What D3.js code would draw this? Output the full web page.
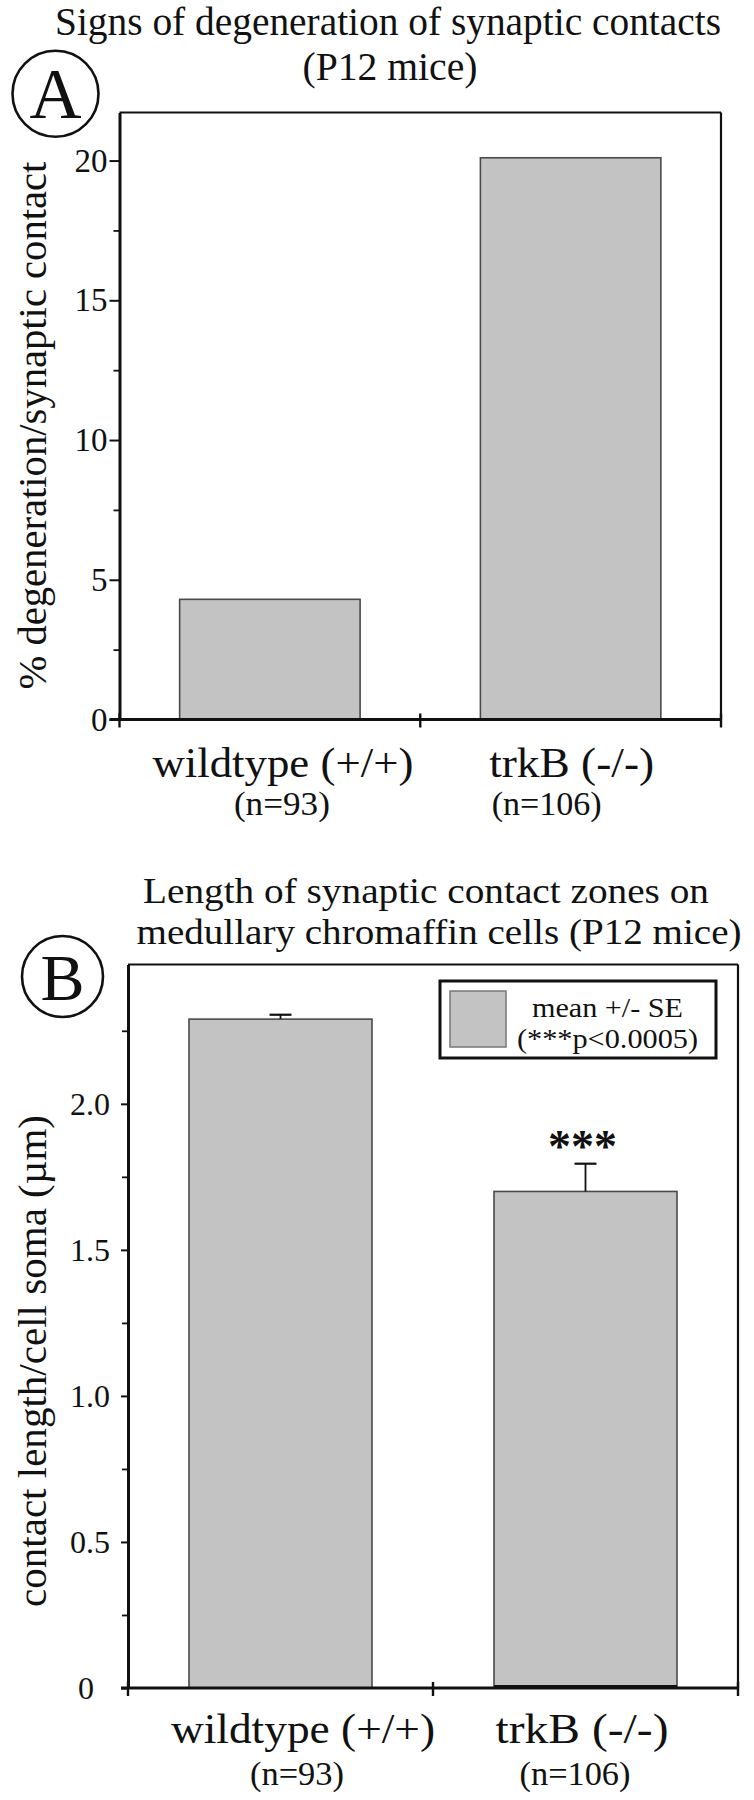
<!DOCTYPE html>
<html>
<head>
<meta charset="utf-8">
<script src="https://cdn.jsdelivr.net/npm/d3@7"></script>
<style>
  html, body { margin: 0; padding: 0; background: #fff; }
  text { font-family: "Liberation Serif", serif; }
</style>
</head>
<body>
<svg id="chart" width="754" height="1800"></svg>
<script>
// ---------------- data ----------------
const categories = ["wildtype (+/+)", "trkB (-/-)"];
const nLabelsA = ["(n=93)", "(n=106)"];
const nLabelsB = ["(n=93)", "(n=106)"];
const valuesA = [4.3, 20.1];                 // % degeneration / synaptic contact
const valuesB = [2.29, 1.70];                // contact length / cell soma (µm)
const errorsB = [0.015, 0.095];              // SE
const signifB = ["", "***"];
const majorTicksA = [0, 5, 10, 15, 20];
const minorTicksA = [2.5, 7.5, 12.5, 17.5];
const majorTicksB = [0, 0.5, 1.0, 1.5, 2.0];
const minorTicksB = [0.25, 0.75, 1.25, 1.75, 2.25];
const titleA = ["Signs of degeneration of synaptic contacts", "(P12 mice)"];
const titleB = ["Length of synaptic contact zones on", "medullary chromaffin cells (P12 mice)"];
const yTitleA = "% degeneration/synaptic contact";
const yTitleB = "contact length/cell soma (\u00b5m)";
const legendLines = ["mean +/- SE", "(***p<0.0005)"];

// ---------------- drawing ----------------
const FONT = "Liberation Serif";
const svg = d3.select("#chart");
const BAR_FILL = "#c3c3c3";
const BAR_STROKE = "#4a4a4a";

function txt(g, s, x, y, size, len, opts = {}) {
  const t = g.append("text")
    .attr("x", x).attr("y", y)
    .attr("text-anchor", opts.anchor || "middle")
    .attr("font-family", FONT)
    .attr("font-size", size)
    .attr("fill", "#111")
    .text(s);
  if (len) t.attr("textLength", len).attr("lengthAdjust", "spacingAndGlyphs");
  if (opts.weight) t.attr("font-weight", opts.weight);
  if (opts.transform) t.attr("transform", opts.transform);
  return t;
}

function panel(cfg) {
  const g = svg.append("g");
  const x = d3.scaleBand().domain(categories).range([cfg.left, cfg.right])
    .paddingInner(0.4).paddingOuter(0.2);
  const y = d3.scaleLinear().domain([0, cfg.yMax]).range([cfg.bottom, cfg.top]);

  // titles
  cfg.title.forEach((s, i) => txt(g, s, cfg.titlePos[i][0], cfg.titlePos[i][1], cfg.titleSize, cfg.titlePos[i][2]));

  // circled letter
  g.append("circle").attr("cx", cfg.circle[0]).attr("cy", cfg.circle[1]).attr("r", cfg.circle[2])
    .attr("fill", "none").attr("stroke", "#111").attr("stroke-width", 2.6);
  txt(g, cfg.letter, cfg.circle[0], cfg.letterBase, cfg.letterSize);

  // bars
  g.selectAll("rect.bar").data(cfg.values).join("rect").attr("class", "bar")
    .attr("x", (d, i) => x(categories[i]))
    .attr("y", d => y(d))
    .attr("width", x.bandwidth())
    .attr("height", d => y(0) - y(d))
    .attr("fill", BAR_FILL).attr("stroke", BAR_STROKE).attr("stroke-width", 1.6);

  // error bars
  if (cfg.errors) {
    cfg.errors.forEach((e, i) => {
      const cx = x(categories[i]) + x.bandwidth() / 2;
      const v = cfg.values[i];
      g.append("line").attr("x1", cx).attr("x2", cx).attr("y1", y(v)).attr("y2", y(v + e))
        .attr("stroke", "#111").attr("stroke-width", 1.8);
      g.append("line").attr("x1", cx - 11).attr("x2", cx + 11).attr("y1", y(v + e)).attr("y2", y(v + e))
        .attr("stroke", "#111").attr("stroke-width", 2.2);
      if (cfg.signif && cfg.signif[i]) {
        txt(g, cfg.signif[i], cx - 3, y(v + e) - 2, 46, 69, { weight: "bold" });
      }
    });
    // darker base under the trkB bar
    g.append("line")
      .attr("x1", x(categories[1])).attr("x2", x(categories[1]) + x.bandwidth())
      .attr("y1", y(0) - 1.5).attr("y2", y(0) - 1.5)
      .attr("stroke", "#111").attr("stroke-width", 3);
  }

  // frame (top, right)
  g.append("line").attr("x1", cfg.left).attr("x2", cfg.right).attr("y1", cfg.top).attr("y2", cfg.top)
    .attr("stroke", "#111").attr("stroke-width", 2.2);
  g.append("line").attr("x1", cfg.right).attr("x2", cfg.right).attr("y1", cfg.top).attr("y2", cfg.bottom)
    .attr("stroke", "#111").attr("stroke-width", 2.2);

  // y axis: minor ticks
  const minorAx = g.append("g").attr("transform", `translate(${cfg.left},0)`)
    .call(d3.axisLeft(y).tickValues(cfg.minor).tickSize(cfg.minorLen).tickFormat(""));
  minorAx.select(".domain").remove();
  minorAx.selectAll(".tick line").attr("stroke", "#111").attr("stroke-width", 1.8);

  // y axis: major ticks
  const majAx = g.append("g").attr("transform", `translate(${cfg.left},0)`)
    .call(d3.axisLeft(y).tickValues(cfg.major).tickSize(cfg.majorLen).tickSizeOuter(0)
      .tickPadding(cfg.tickPad).tickFormat(cfg.fmt));
  majAx.attr("font-family", FONT).attr("font-size", cfg.tickSize);
  majAx.select(".domain").attr("stroke", "#111").attr("stroke-width", 3);
  majAx.selectAll(".tick line").attr("stroke", "#111").attr("stroke-width", 2);
  majAx.selectAll(".tick text")
    .attr("font-family", FONT)
    .attr("font-size", cfg.tickSize)
    .attr("fill", "#111")
    .attr("dx", d => (d === 0 ? cfg.zeroShift : 0));

  // bottom axis line
  g.append("line").attr("x1", cfg.left - cfg.majorLen).attr("x2", cfg.right)
    .attr("y1", y(0)).attr("y2", y(0)).attr("stroke", "#111").attr("stroke-width", 3);
  // boundary ticks on the x axis
  const bounds = [x.range()[0],
    x(categories[1]) - x.step() * x.paddingInner() / 2,
    x.range()[1]];
  g.selectAll("line.xt").data(bounds).join("line").attr("class", "xt")
    .attr("x1", d => d).attr("x2", d => d)
    .attr("y1", y(0) - 6).attr("y2", y(0) + 8)
    .attr("stroke", "#111").attr("stroke-width", 2.4);

  // category labels
  categories.forEach((c, i) => {
    const cx = x(c) + x.bandwidth() / 2;
    txt(g, c, cx + cfg.catDx[i], cfg.catBase, cfg.catSize, cfg.catLen[i]);
    txt(g, cfg.nLabels[i], cx + cfg.nDx[i], cfg.nBase, cfg.nSize, cfg.nLen[i]);
  });

  // y title
  txt(g, cfg.yTitle, 0, 0, cfg.yTitleSize, cfg.yTitleLen,
    { transform: `translate(${cfg.yTitleX},${cfg.yTitleY}) rotate(-90)` });

  return { g, x, y };
}

// Panel A
panel({
  left: 119.5, right: 721, top: 112.5, bottom: 719.5, yMax: 21.72,
  values: valuesA,
  major: majorTicksA, minor: minorTicksA, majorLen: 10, minorLen: 6, tickPad: 2,
  tickSize: 33, zeroShift: 0, fmt: d3.format("d"),
  title: titleA, titleSize: 40,
  titlePos: [[388, 35, 666], [390, 80, 175]],
  circle: [55.5, 93.7, 43], letter: "A", letterSize: 72, letterBase: 118,
  catDx: [13, 1], catBase: 777, catSize: 42, catLen: [261, 165],
  nLabels: nLabelsA, nDx: [12, -24], nBase: 815, nSize: 33, nLen: [96, 110],
  yTitle: yTitleA, yTitleSize: 40, yTitleLen: 528, yTitleX: 46, yTitleY: 425.6
});

// Panel B
const pB = panel({
  left: 128, right: 738, top: 964.5, bottom: 1688, yMax: 2.477,
  values: valuesB, errors: errorsB, signif: signifB,
  major: majorTicksB, minor: minorTicksB, majorLen: 7, minorLen: 6, tickPad: 11,
  tickSize: 32, zeroShift: -16, fmt: d => (d === 0 ? "0" : d3.format(".1f")(d)),
  title: titleB, titleSize: 36,
  titlePos: [[426, 903, 566], [439, 944, 605]],
  circle: [62.5, 976.5, 40.5], letter: "B", letterSize: 66, letterBase: 1000,
  catDx: [22.5, -3.5], catBase: 1743, catSize: 42, catLen: [264, 173],
  nLabels: nLabelsB, nDx: [16.5, -10.5], nBase: 1785, nSize: 33, nLen: [94, 111],
  yTitle: yTitleB, yTitleSize: 40, yTitleLen: 492, yTitleX: 46, yTitleY: 1361
});

// Legend (panel B)
const lg = pB.g.append("g");
lg.append("rect").attr("x", 440).attr("y", 981).attr("width", 276).attr("height", 77)
  .attr("fill", "#fff").attr("stroke", "#111").attr("stroke-width", 3);
lg.append("rect").attr("x", 450).attr("y", 991).attr("width", 56).attr("height", 56)
  .attr("fill", BAR_FILL).attr("stroke", "#777").attr("stroke-width", 1.5);
txt(lg, legendLines[0], 607.5, 1017, 27, 151);
txt(lg, legendLines[1], 607.5, 1048, 27, 181);
</script>
</body>
</html>
